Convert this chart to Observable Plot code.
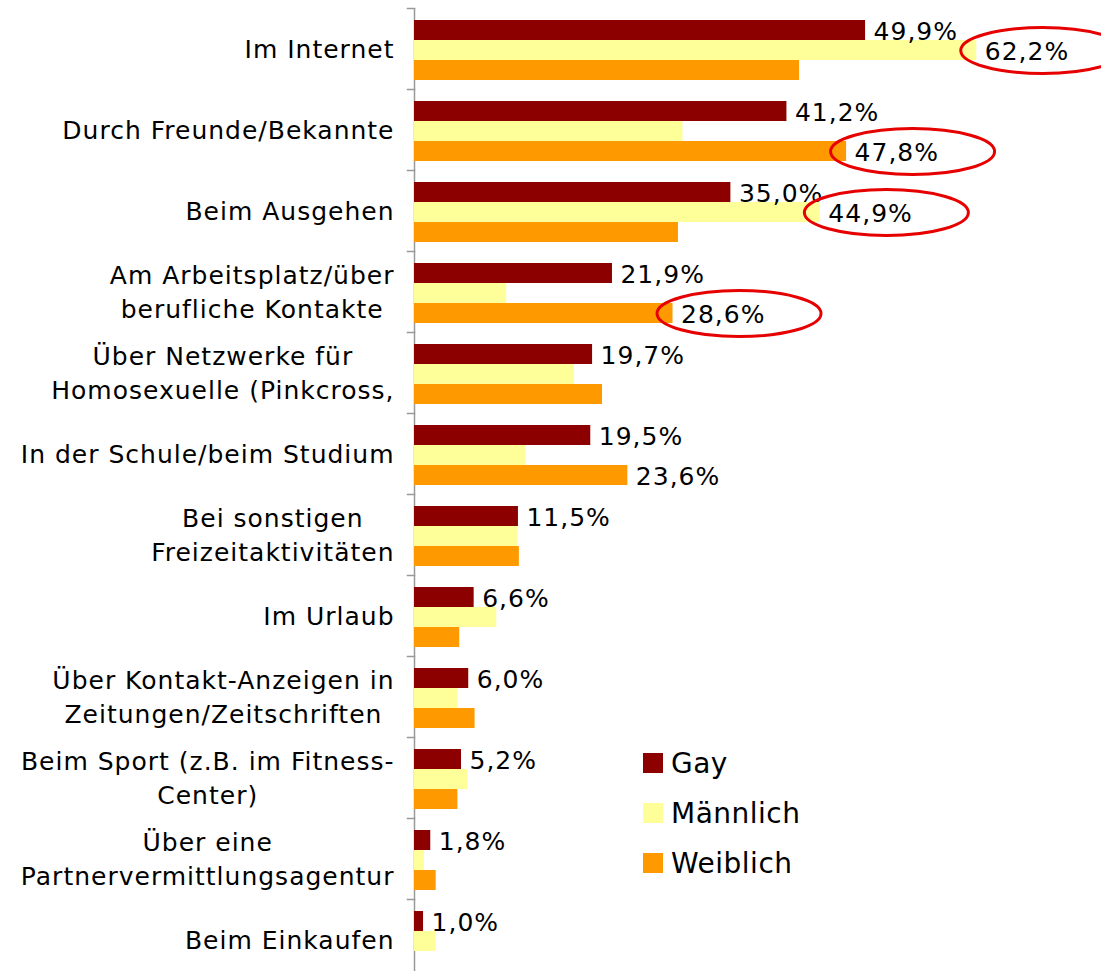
<!DOCTYPE html>
<html>
<head>
<meta charset="utf-8">
<script src="https://cdn.jsdelivr.net/npm/d3@7"></script>
<script src="https://cdn.jsdelivr.net/npm/@observablehq/plot@0.6"></script>
<style>
  html, body { margin: 0; padding: 0; background: #fff; overflow: hidden; }
  #wrap { position: relative; width: 1101px; height: 971px; overflow: hidden; }
  #legend { position: absolute; left: 643px; top: 738px; }
  .lg-swatches { margin: 0 !important; font-family: "DejaVu Sans", sans-serif !important; font-size: 28px !important; color: #000 !important; letter-spacing: 0.5px; }
  .lg-swatch { display: flex !important; align-items: center !important; height: 50px !important; padding: 0 !important; margin: 0 !important; }
  .lg-swatch > svg { margin-right: 8px !important; }
</style>
</head>
<body>
<div id="wrap"><div id="chart"></div><div id="legend"></div></div>
<script>
const categories = [
  "Im Internet",
  "Durch Freunde/Bekannte",
  "Beim Ausgehen",
  "Am Arbeitsplatz/über\nberufliche Kontakte",
  "Über Netzwerke für\nHomosexuelle (Pinkcross,",
  "In der Schule/beim Studium",
  "Bei sonstigen\nFreizeitaktivitäten",
  "Im Urlaub",
  "Über Kontakt-Anzeigen in\nZeitungen/Zeitschriften",
  "Beim Sport (z.B. im Fitness-\nCenter)",
  "Über eine\nPartnervermittlungsagentur",
  "Beim Einkaufen"
];
const seriesNames = ["Gay", "Männlich", "Weiblich"];
const seriesColors = ["#8c0000", "#ffff99", "#ff9900"];
const gay       = [49.9, 41.2, 35.0, 21.9, 19.7, 19.5, 11.5, 6.6, 6.0, 5.2, 1.8, 1.0];
const maennlich = [62.2, 29.7, 44.9, 10.2, 17.7, 12.3, 11.4, 9.1, 4.8, 5.9, 1.1, 2.4];
const weiblich  = [42.6, 47.8, 29.2, 28.6, 20.8, 23.6, 11.6, 5.0, 6.7, 4.8, 2.4, 0];
const labeledMaennlich = ["Im Internet", "Beim Ausgehen"];
const labeledWeiblich = ["Durch Freunde/Bekannte", "Am Arbeitsplatz/über\nberufliche Kontakte", "In der Schule/beim Studium"];
const circled = [
  ["Im Internet", "Männlich"],
  ["Durch Freunde/Bekannte", "Weiblich"],
  ["Beim Ausgehen", "Männlich"],
  ["Am Arbeitsplatz/über\nberufliche Kontakte", "Weiblich"]
];

const seriesValues = {"Gay": gay, "Männlich": maennlich, "Weiblich": weiblich};
const data = categories.flatMap((c, i) => seriesNames.map(s => ({category: c, series: s, value: seriesValues[s][i]})));
const labelData = data.filter(d => d.series === "Gay" ||
  (d.series === "Männlich" && labeledMaennlich.includes(d.category)) ||
  (d.series === "Weiblich" && labeledWeiblich.includes(d.category)));
const circleData = data.filter(d => circled.some(([c, s]) => c === d.category && s === d.series));
const fmt = v => v.toFixed(1).replace(".", ",") + "%";

const ellipse = {
  draw(ctx) {
    const rx = 82, ry = 23, k = 0.5523;
    ctx.moveTo(rx, 0);
    ctx.bezierCurveTo(rx, k * ry, k * rx, ry, 0, ry);
    ctx.bezierCurveTo(-k * rx, ry, -rx, k * ry, -rx, 0);
    ctx.bezierCurveTo(-rx, -k * ry, -k * rx, -ry, 0, -ry);
    ctx.bezierCurveTo(k * rx, -ry, rx, -k * ry, rx, 0);
    ctx.closePath();
  }
};

const chart = Plot.plot({
  width: 1101,
  height: 980,
  marginLeft: 414,
  marginRight: 0,
  marginTop: 7,
  marginBottom: 0,
  style: {fontFamily: "DejaVu Sans, sans-serif", fontSize: "25px", color: "#000", background: "#fff", letterSpacing: "1px"},
  x: {domain: [0, 76], axis: null},
  y: {domain: seriesNames, axis: null, paddingInner: 0, paddingOuter: 0.5, align: 0.55},
  fy: {domain: categories, padding: 0, axis: null},
  color: {domain: seriesNames, range: seriesColors},
  marks: [
    Plot.ruleX([0], {stroke: "#999", strokeWidth: 1.5}),
    Plot.frame({anchor: "top", stroke: "#999", strokeWidth: 1.5, insetLeft: -7, insetRight: 687}),
    Plot.barX(data, {x: "value", y: "series", fy: "category", fill: "series"}),
    Plot.text(labelData, {x: "value", y: "series", fy: "category", text: d => fmt(d.value),
      textAnchor: "start", dx: 8, dy: 1, fontSize: 25, fill: "#000"}),
    Plot.dot(circleData, {x: "value", y: "series", fy: "category", symbol: ellipse, r: 10,
      dx: 66, stroke: "#e60000", strokeWidth: 3, fill: "none"}),
    Plot.text(categories, {fy: d => d, text: d => d, frameAnchor: "left", textAnchor: "end",
      dx: -20, dy: -2, lineHeight: 1.38, fontSize: 25, fill: "#000"})
  ]
});
document.getElementById("chart").appendChild(chart);

// center multi-line category labels within their right-aligned block
chart.querySelectorAll("text").forEach(t => {
  const spans = t.querySelectorAll("tspan");
  if (spans.length > 1) {
    const w = Math.max(...Array.from(spans, s => s.getComputedTextLength()));
    const base = +(t.getAttribute("x") || 0);
    t.setAttribute("text-anchor", "middle");
    t.style.textAnchor = "middle";
    spans.forEach(s => s.setAttribute("x", base - w / 2));
  }
});

const legend = chart.legend("color", {legend: "swatches", columns: 1, swatchSize: 20, className: "lg"});
document.getElementById("legend").appendChild(legend);
</script>
</body>
</html>
